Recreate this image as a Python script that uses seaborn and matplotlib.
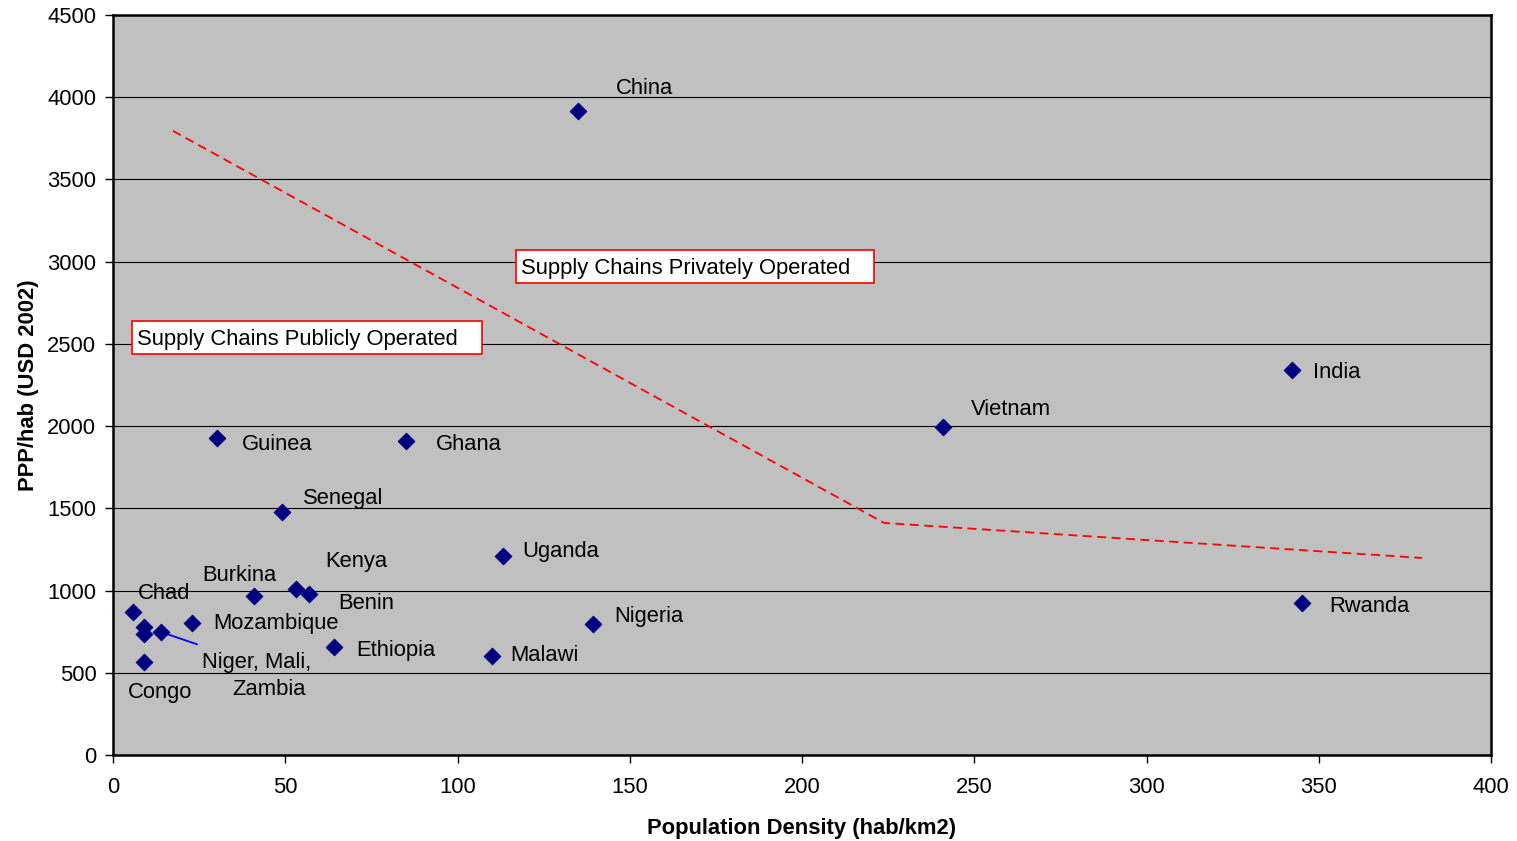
import matplotlib
matplotlib.use("Agg")
import matplotlib.pyplot as plt
from matplotlib.patches import Rectangle
import seaborn as sns
import pandas as pd

# Country observations: population density vs. purchasing power per inhabitant
countries = ["China", "India", "Vietnam", "Rwanda", "Guinea", "Ghana", "Senegal",
             "Uganda", "Nigeria", "Malawi", "Ethiopia", "Kenya", "Benin", "Burkina",
             "Mozambique", "Chad", "Niger", "Mali", "Zambia", "Congo"]
density = [135.0, 342.2, 240.9, 345.1, 30.2, 85.0, 49.1,
           113.2, 139.3, 110.0, 64.0, 53.1, 57.0, 41.0,
           23.0, 5.9, 9.1, 9.1, 13.9, 9.1]
ppp = [3916, 2341, 1995, 924, 1928, 1910, 1478,
       1210, 797, 602, 659, 1009, 977, 967,
       801, 871, 778, 736, 748, 567]

# Text labels (some countries share one label)
label_text = ["China", "India", "Vietnam", "Rwanda", "Guinea", "Ghana", "Senegal",
              "Uganda", "Nigeria", "Malawi", "Ethiopia", "Kenya", "Benin", "Burkina",
              "Mozambique", "Chad", "Niger, Mali,", "Zambia", "Congo"]
label_x = [146.0, 348.3, 249.1, 353.0, 37.4, 93.8, 55.2,
           118.7, 145.4, 115.2, 70.5, 61.5, 65.3, 25.8,
           29.0, 7.3, 25.8, 34.5, 4.4]
label_y = [4068, 2341, 2116, 918, 1903, 1903, 1575,
           1253, 857, 620, 651, 1192, 937, 1107,
           815, 997, 578, 414, 395]

# Leader line from the Niger/Mali/Zambia cluster to its label
leader_x = [13.9, 24.4]
leader_y = [748, 673]

# Boundary between publicly and privately operated supply chains
boundary_x = [17.4, 223.8, 380.0]
boundary_y = [3795, 1411, 1198]

# Region annotations
region_text = ["Supply Chains Privately Operated", "Supply Chains Publicly Operated"]

df = pd.DataFrame({"country": countries, "density": density, "ppp": ppp})

sns.set_theme(style="white")
plt.rcParams["font.family"] = ["Liberation Sans", "DejaVu Sans"]
plt.rcParams["text.color"] = "black"
plt.rcParams["axes.labelcolor"] = "black"

fig = plt.figure(figsize=(15.17, 8.41), dpi=100)
ax = fig.add_axes([0.0745, 0.1023, 0.9084, 0.8799])
ax.set_facecolor("#C0C0C0")

ax.set_xlim(0, 400)
ax.set_ylim(0, 4500)
ax.set_xticks(range(0, 401, 50))
ax.set_yticks(range(0, 4501, 500))
ax.yaxis.grid(True, color="black", linewidth=0.8)
ax.xaxis.grid(False)
ax.set_axisbelow(True)

ax.plot(boundary_x, boundary_y, color="#FF0000", linestyle=(0, (5, 3)), linewidth=1.3, zorder=2)
ax.plot(leader_x, leader_y, color="#0000FF", linewidth=1.3, zorder=2)

sns.scatterplot(data=df, x="density", y="ppp", marker="D", s=75, color="#000080",
                edgecolor="#000080", linewidth=0.5, ax=ax, zorder=3, legend=False)

for t, lx, ly in zip(label_text, label_x, label_y):
    ax.text(lx, ly, t, fontsize=15.8, color="black", ha="left", va="center_baseline", zorder=4)

# Framed region annotations: (left, bottom, right, top) in data units
region_boxes = [(117.0, 2870, 220.9, 3071), (5.5, 2439, 107.1, 2639)]
for t, (x0, y0, x1, y1) in zip(region_text, region_boxes):
    ax.add_patch(Rectangle((x0, y0), x1 - x0, y1 - y0, facecolor="white",
                           edgecolor="#FF0000", linewidth=1.2, zorder=4))
    ax.text(x0 + 1.4, (y0 + y1) / 2, t, fontsize=15.8, color="black",
            ha="left", va="center_baseline", zorder=5)

for side in ["left", "bottom", "top", "right"]:
    ax.spines[side].set_color("black")
    ax.spines[side].set_linewidth(1.8)

ax.tick_params(axis="both", which="major", direction="out", length=6, width=1,
               color="black", labelsize=15.8, labelcolor="black", left=True, bottom=True)
ax.tick_params(axis="x", pad=10)
ax.tick_params(axis="y", pad=6)

ax.set_xlabel("Population Density (hab/km2)", fontsize=15.8, fontweight="bold", labelpad=14)
ax.set_ylabel("PPP/hab (USD 2002)", fontsize=15.8, fontweight="bold", labelpad=6)

fig.savefig("out.png", dpi=100, facecolor="white")
